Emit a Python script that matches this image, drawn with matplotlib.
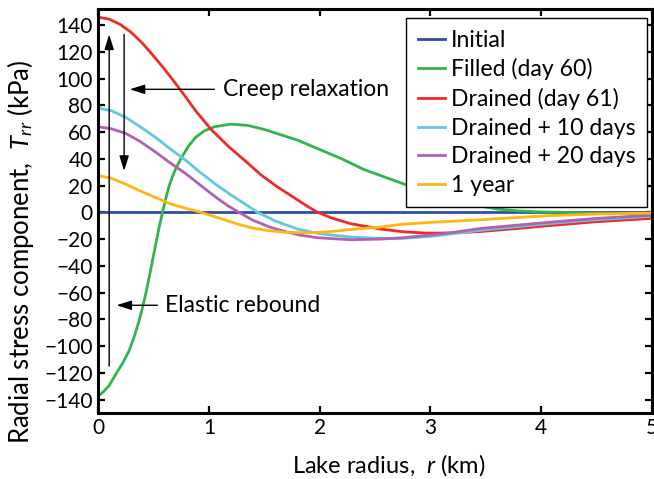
import matplotlib
matplotlib.use("Agg")
import matplotlib.pyplot as plt

plt.rcParams['font.family'] = ['Lato', 'DejaVu Sans']
plt.rcParams['mathtext.fontset'] = 'custom'
plt.rcParams['mathtext.it'] = 'Lato:italic'
plt.rcParams['mathtext.rm'] = 'Lato'

# values (r in km, T_rr in kPa)
r_initial = [0, 5]
t_initial = [0, 0]

r_filled = [0, 0.05, 0.1, 0.16, 0.22, 0.28, 0.33, 0.37, 0.4, 0.43, 0.46, 0.49,
            0.52, 0.55, 0.58, 0.61, 0.64, 0.67, 0.7, 0.76, 0.82, 0.88, 0.96,
            1.05, 1.2, 1.35, 1.5, 1.65, 1.8, 2.0, 2.2, 2.4, 2.6, 2.8, 3.0, 3.2,
            3.43, 3.6, 3.8, 4.0, 4.5, 5.0]
t_filled = [-137.5, -134, -129.5, -121, -113, -103.5, -92, -81, -71.5, -61,
            -49, -36.5, -24, -11.5, -0.5, 10, 19.5, 26.5, 32.5, 42, 50, 56, 61,
            64, 66, 65, 62, 58, 54, 47, 40, 32, 26, 20, 15, 10,
            5, 2.5, 1, 0.3, -0.5, -1.5]

r_drained = [0, 0.1, 0.2, 0.3, 0.4, 0.5, 0.6, 0.74, 0.88, 1.02, 1.18, 1.335,
             1.47, 1.61, 1.75, 1.87, 1.97, 2.1, 2.28, 2.55, 2.75, 2.95, 3.2,
             3.46, 3.75, 4.06, 4.5, 5.0]
t_drained = [146, 144.5, 140.5, 134.5, 126.5, 117, 107, 92, 76, 62, 49, 38,
             28, 19.5, 12, 5.5, 0.5, -4, -8.5, -12.5, -14.5, -15.5, -15.5,
             -14.3, -12.3, -10, -7, -4.5]

r_plus10 = [0, 0.12, 0.25, 0.38, 0.52, 0.65, 0.79, 0.92, 1.06, 1.2, 1.33, 1.44,
            1.6, 1.8, 2.0, 2.28, 2.55, 2.75, 3.0, 3.25, 3.5, 4.06, 4.5, 5.0]
t_plus10 = [78, 76, 71, 64, 56, 47.5, 39, 30, 21, 13, 6, 0,
            -6.5, -12.5, -16, -18.5, -19.5, -19.5, -18, -15.5, -13, -8.5, -5.5, -3]

r_plus20 = [0, 0.12, 0.25, 0.38, 0.52, 0.65, 0.79, 0.92, 1.06, 1.17, 1.27, 1.4,
            1.55, 1.67, 1.82, 1.98, 2.28, 2.55, 2.75, 3.0, 3.25, 3.46, 4.06,
            4.5, 5.0]
t_plus20 = [64, 62.5, 59, 53, 45, 37, 29, 20.5, 11.5, 5, 0, -6,
            -11, -14, -17, -19, -20.5, -20, -19, -17, -14.5, -12, -7.5,
            -4.5, -2.2]

r_year = [0, 0.12, 0.25, 0.38, 0.52, 0.65, 0.79, 0.93, 1.1, 1.25, 1.38, 1.52,
          1.67, 1.85, 2.0, 2.15, 2.28, 2.55, 2.73, 3.0, 3.46, 4.06, 4.5, 5.0]
t_year = [27.5, 25.5, 21, 16, 11, 6.5, 3, 0, -4.5, -8.5, -11.5, -13.5,
          -14.8, -15.3, -15, -14, -12.8, -11, -9, -7.5, -5.5, -2.5, -1.3, -0.5]

labels = ['Initial', 'Filled (day 60)', 'Drained (day 61)',
          'Drained + 10 days', 'Drained + 20 days', '1 year']
colors = ['#2e4fa3', '#2fb54a', '#ee2b24', '#62c8e2', '#b160b2', '#fdb714']

fig = plt.figure(figsize=(6.54, 4.79), dpi=100)
ax = fig.add_axes([0.150, 0.138, 0.847, 0.843])

series = [(r_initial, t_initial), (r_filled, t_filled), (r_drained, t_drained),
          (r_plus10, t_plus10), (r_plus20, t_plus20), (r_year, t_year)]
for (r, t), lab, c in zip(series, labels, colors):
    ax.plot(r, t, color=c, lw=2.0, label=lab, solid_joinstyle='round')

# arrows and annotations
arrow = dict(arrowstyle='-|>,head_length=0.7,head_width=0.22', color='black',
             lw=1.0, mutation_scale=13, shrinkA=0, shrinkB=0)
ax.annotate('', xy=(0.1, 133), xytext=(0.1, -115), arrowprops=arrow)
ax.annotate('', xy=(0.235, 31), xytext=(0.235, 133), arrowprops=arrow)
ax.annotate('', xy=(0.285, 92), xytext=(1.05, 92), arrowprops=arrow)
ax.annotate('', xy=(0.165, -69.5), xytext=(0.535, -69.5), arrowprops=arrow)
ax.text(1.13, 92, 'Creep relaxation', fontsize=16.5, va='center', ha='left')
ax.text(0.6, -69.5, 'Elastic rebound', fontsize=16.5, va='center', ha='left')

ax.set_xlim(0, 5)
ax.set_ylim(-150, 152)
ax.set_xticks([0, 1, 2, 3, 4, 5])
ax.set_yticks(range(-140, 141, 20))
ax.tick_params(direction='in', top=True, right=True, length=5, width=1.6,
               labelsize=15, pad=4)
for s in ax.spines.values():
    s.set_linewidth(2.2)

ax.set_xlabel('Lake radius,  $r$ (km)', fontsize=17)
ax.set_ylabel('Radial stress component,  $T_{rr}$ (kPa)', fontsize=18.5)
ax.xaxis.set_label_coords(0.525, -0.098)
ax.yaxis.set_label_coords(-0.112, 0.40)

leg = ax.legend(loc='upper right', bbox_to_anchor=(0.991, 0.9777),
                borderaxespad=0, fontsize=16.6, frameon=True, fancybox=False,
                framealpha=1, edgecolor='black', handlelength=1.17,
                handletextpad=0.26, labelspacing=0.33, borderpad=0.5)
leg.get_frame().set_linewidth(1.0)

fig.savefig('out.png', dpi=100)
